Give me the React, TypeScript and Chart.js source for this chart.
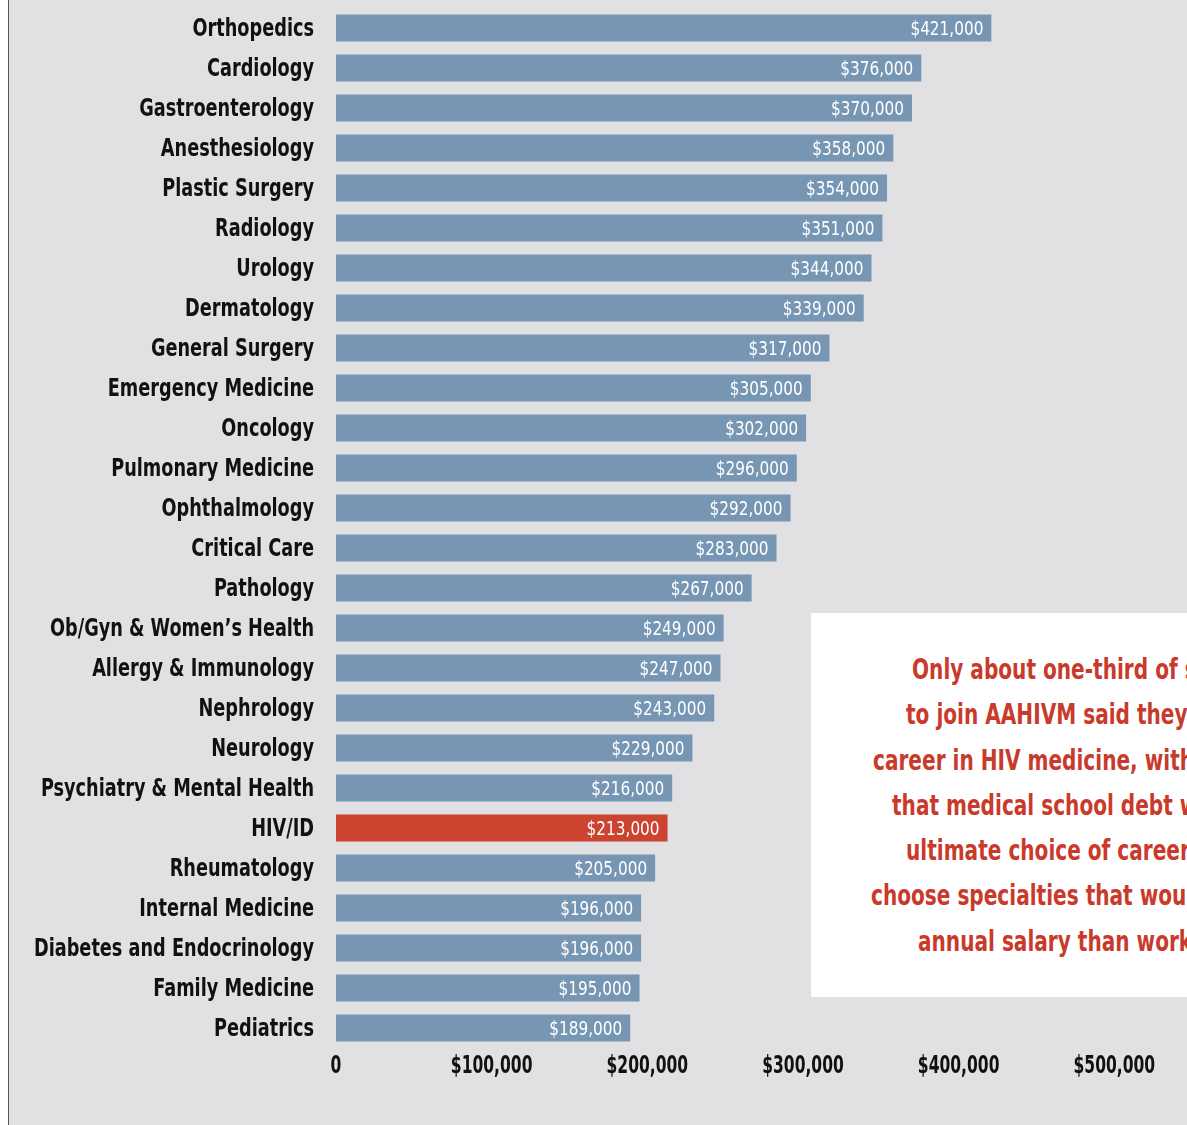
import React, { useEffect, useRef } from "react";
import { Chart, registerables } from "chart.js";

Chart.register(...registerables);

const specialties = [
  "Orthopedics",
  "Cardiology",
  "Gastroenterology",
  "Anesthesiology",
  "Plastic Surgery",
  "Radiology",
  "Urology",
  "Dermatology",
  "General Surgery",
  "Emergency Medicine",
  "Oncology",
  "Pulmonary Medicine",
  "Ophthalmology",
  "Critical Care",
  "Pathology",
  "Ob/Gyn & Women\u2019s Health",
  "Allergy & Immunology",
  "Nephrology",
  "Neurology",
  "Psychiatry & Mental Health",
  "HIV/ID",
  "Rheumatology",
  "Internal Medicine",
  "Diabetes and Endocrinology",
  "Family Medicine",
  "Pediatrics",
];

const salaries = [
  421000, 376000, 370000, 358000, 354000, 351000, 344000, 339000, 317000,
  305000, 302000, 296000, 292000, 283000, 267000, 249000, 247000, 243000,
  229000, 216000, 213000, 205000, 196000, 196000, 195000, 189000,
];

const highlighted = "HIV/ID";

const axisMin = 0;
const axisMax = 600000;
const axisStep = 100000;

const calloutLines = [
  "Only about one-third of students who applied",
  "to join AAHIVM said they were planning a",
  "career in HIV medicine, with many saying",
  "that medical school debt would factor into their",
  "ultimate choice of career, and that they may",
  "choose specialties that would provide a higher",
  "annual salary than working in HIV medicine.",
];

const FONT = '"DejaVu Sans Condensed", "Liberation Sans Narrow", sans-serif';
const BLUE = "#7796b4";
const RED = "#cc432f";
const BG = "#e1e1e3";

const fmtMoney = (v: number) =>
  v === 0 ? "0" : "$" + v.toLocaleString("en-US");

function drawSqueezed(
  ctx: CanvasRenderingContext2D,
  text: string,
  x: number,
  y: number,
  sx: number,
  align: CanvasTextAlign
) {
  ctx.save();
  ctx.translate(x, y);
  ctx.scale(sx, 1);
  ctx.textAlign = align;
  ctx.textBaseline = "middle";
  ctx.fillText(text, 0, 0);
  ctx.restore();
}

const textPlugin = {
  id: "condensedText",
  afterDatasetsDraw(chart: any) {
    const ctx: CanvasRenderingContext2D = chart.ctx;
    const area = chart.chartArea;
    const meta = chart.getDatasetMeta(0);
    const yScale = chart.scales.y;
    const xScale = chart.scales.x;

    // bar value labels
    ctx.save();
    ctx.font = `20px ${FONT}`;
    ctx.fillStyle = "#ffffff";
    meta.data.forEach((bar: any, i: number) => {
      drawSqueezed(ctx, fmtMoney(salaries[i]), bar.x - 8, bar.y + 1.5, 0.85, "right");
    });
    ctx.restore();

    // category labels
    ctx.save();
    ctx.font = `bold 24px ${FONT}`;
    ctx.fillStyle = "#111111";
    yScale.ticks.forEach((_t: any, i: number) => {
      const label = chart.data.labels[i];
      drawSqueezed(ctx, String(label), area.left - 22, yScale.getPixelForTick(i) + 1.5, 0.82, "right");
    });
    ctx.restore();

    // value axis labels
    ctx.save();
    ctx.font = `bold 24px ${FONT}`;
    ctx.fillStyle = "#111111";
    xScale.ticks.forEach((t: any, i: number) => {
      drawSqueezed(ctx, fmtMoney(t.value), xScale.getPixelForTick(i), area.bottom + 19, 0.72, "center");
    });
    ctx.restore();
  },
};

function SalaryChart() {
  const ref = useRef<HTMLCanvasElement | null>(null);
  useEffect(() => {
    if (!ref.current) return;
    const chart = new Chart(ref.current, {
      type: "bar",
      data: {
        labels: specialties,
        datasets: [
          {
            data: salaries,
            backgroundColor: specialties.map((s) => (s === highlighted ? RED : BLUE)),
            borderWidth: 0,
            barPercentage: 0.675,
            categoryPercentage: 1,
          },
        ],
      },
      options: {
        indexAxis: "y",
        responsive: false,
        animation: false,
        devicePixelRatio: 1,
        layout: { padding: { top: 8, right: 50, bottom: 37, left: 0 } },
        plugins: {
          legend: { display: false },
          tooltip: { enabled: false },
        },
        scales: {
          x: {
            min: axisMin,
            max: axisMax,
            grid: { display: false, drawTicks: false },
            border: { display: false },
            ticks: { stepSize: axisStep, display: false },
            afterFit: (scale: any) => {
              scale.height = 40;
              scale.paddingLeft = 0;
              scale.paddingRight = 0;
            },
          },
          y: {
            grid: { display: false, drawTicks: false },
            border: { display: false },
            ticks: { display: false },
            afterFit: (scale: any) => {
              scale.width = 327;
              scale.paddingTop = 0;
              scale.paddingBottom = 0;
            },
          },
        },
      },
      plugins: [textPlugin],
    });
    return () => chart.destroy();
  }, []);
  return (
    <canvas
      ref={ref}
      width={1311}
      height={1125}
      style={{ position: "absolute", left: 0, top: 0, width: 1311, height: 1125 }}
    />
  );
}

const lineIndents = [101, 95, 62, 81, 95, 60, 107];

export default function App() {
  return (
    <div
      style={{
        position: "absolute",
        left: 8,
        top: 0,
        width: 1179,
        height: 1125,
        overflow: "hidden",
        background: BG,
        borderLeft: "1px solid #555",
        boxSizing: "border-box",
      }}
    >
      <SalaryChart />
      <div
        style={{
          position: "absolute",
          left: 802,
          top: 613,
          width: 700,
          height: 384,
          background: "#ffffff",
          boxSizing: "border-box",
          paddingTop: 34,
          fontFamily: FONT,
          fontWeight: "bold",
          fontSize: 29,
          lineHeight: "45.3px",
          color: "#c93a2b",
          whiteSpace: "nowrap",
        }}
      >
        {calloutLines.map((line, i) => (
          <div key={i} style={{ paddingLeft: lineIndents[i] }}>
            <span
              style={{
                display: "inline-block",
                transform: "scaleX(0.77)",
                transformOrigin: "left center",
              }}
            >
              {line}
            </span>
          </div>
        ))}
      </div>
    </div>
  );
}
